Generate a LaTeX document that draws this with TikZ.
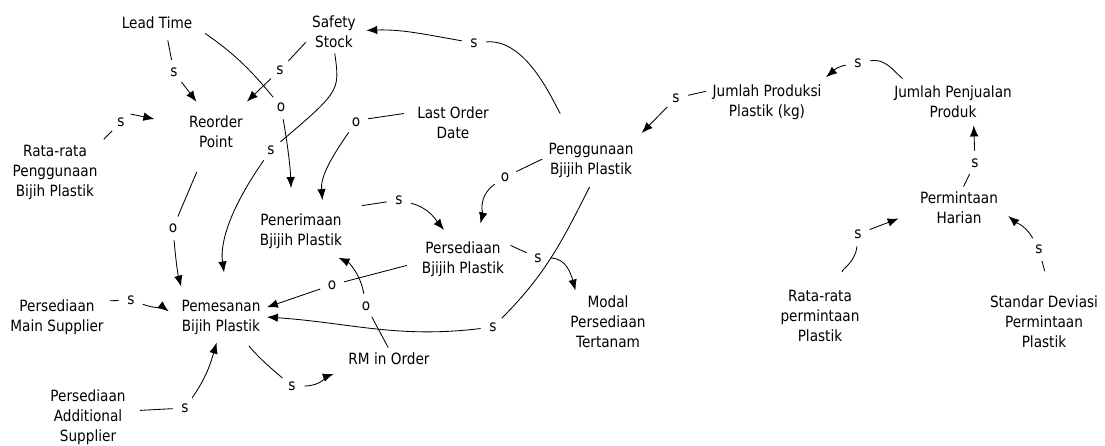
\documentclass[tikz,border=0pt]{standalone}
\usepackage{fontspec}
\setmainfont{DejaVu Sans}[FakeStretch=0.88]
\usetikzlibrary{arrows.meta}

\tikzset{
	var/.style = {align = center, inner xsep = 6pt, inner ysep = 5pt, font = \fontsize{15.5}{20}\selectfont},
	pol/.style = {circle, minimum size = 24pt, inner sep = 0pt, font = \fontsize{15.5}{20}\selectfont},
	cause/.style = {-{Latex[length = 11pt, width = 8.5pt]}},
}

\begin{document}
\begin{tikzpicture} [x = 1pt, y = 1pt, line width = 0.85pt]
	\useasboundingbox (0,0) rectangle (1105,446);
	% variables
	\node [var] (lead) at (157,423) {Lead Time};
	\node [var] (safety) at (334,414) {Safety\\Stock};
	\node [var] (reorder) at (216,314) {Reorder\\Point};
	\node [var] (rataguna) at (55,274) {Rata-rata\\Penggunaan\\Bijih Plastik};
	\node [var] (lastorder) at (453,323) {Last Order\\Date};
	\node [var] (guna) at (591,286) {Penggunaan\\Bjijih Plastik};
	\node [var] (terima) at (301,215) {Penerimaan\\Bjijih Plastik};
	\node [var] (sedia) at (463,187) {Persediaan\\Bjijih Plastik};
	\node [var] (pesan) at (221,129) {Pemesanan\\Bijih Plastik};
	\node [var] (mainsup) at (57,129) {Persediaan\\Main Supplier};
	\node [var] (addsup) at (88,29) {Persediaan\\Additional\\Supplier};
	\node [var] (rm) at (389,87) {RM in Order};
	\node [var] (modal) at (608,124) {Modal\\Persediaan\\Tertanam};
	\node [var] (produksi) at (767,344) {Jumlah Produksi\\Plastik (kg)};
	\node [var] (jual) at (953,344) {Jumlah Penjualan\\Produk};
	\node [var] (harian) at (959,238) {Permintaan\\Harian};
	\node [var] (ratadem) at (820,130) {Rata-rata\\permintaan\\Plastik};
	\node [var] (stdev) at (1044,124) {Standar Deviasi\\Permintaan\\Plastik};
	% polarities
	\node [pol] (pLR) at (174,374) {s};
	\node [pol] (pSR) at (280,376) {s};
	\node [pol] (pLT) at (281,339) {o};
	\node [pol] (pSP) at (271,296) {s};
	\node [pol] (pRR) at (121,324) {s};
	\node [pol] (pRP) at (173,218) {o};
	\node [pol] (pLP) at (356,324) {o};
	\node [pol] (pGS) at (474,403) {s};
	\node [pol] (pGSe) at (505,269) {o};
	\node [pol] (pGP) at (493,119) {s};
	\node [pol] (pTS) at (399,246) {s};
	\node [pol] (pSeP) at (332,161) {o};
	\node [pol] (pRT) at (366,140) {o};
	\node [pol] (pPR) at (292,60) {s};
	\node [pol] (pMP) at (131,146) {s};
	\node [pol] (pAP) at (185,38) {s};
	\node [pol] (pSM) at (538,188) {s};
	\node [pol] (pPG) at (676,348) {s};
	\node [pol] (pJP) at (858,383) {s};
	\node [pol] (pHJ) at (975,283) {s};
	\node [pol] (pRH) at (858,212) {s};
	\node [pol] (pSH) at (1039,197) {s};
	% links
	\draw [shorten < = 6pt] (lead.-50) -- (pLR);
	\draw [cause, shorten > = 11pt] (pLR) -- (reorder.121);
	\draw (safety.200) -- (pSR);
	\draw [cause, shorten > = 13pt] (pSR) -- (reorder.45);
	\draw [shorten < = 8pt] (lead.-8) to [out = -35, in = 129] (pLT);
	\draw [cause, shorten > = 20pt] (pLT) to [out = -80, in = 92] (terima.112);
	\draw (safety.-88) .. controls (340,355) .. (pSP);
	\draw [cause, shorten > = 22pt] (pSP) to [out = -125, in = 98] (pesan.75);
	\draw (rataguna.north east) -- (pRR);
	\draw [cause, shorten > = 29pt] (pRR.40) -- (reorder.168);
	\draw [shorten < = 20pt] (reorder.-118) -- (pRP);
	\draw [cause, shorten > = 8pt] (pRP) to [out = -85, in = 105] (pesan.149);
	\draw [shorten < = 7pt] (lastorder.166) -- (pLP.15);
	\draw [cause, shorten > = 8pt] (pLP) to [out = -125, in = 95] (terima.46);
	\draw [shorten < = 28pt] (guna.125) to [out = 122, in = 5, looseness = 0.8] (pGS);
	\draw [cause, shorten > = 4pt] (pGS) to [out = 170, in = 2] (safety.3);
	\draw (guna.179) -- (pGSe);
	\draw [cause, shorten > = 13pt] (pGSe) to [out = -145, in = 76] (sedia.58);
	\draw [shorten < = 5pt] (guna.-88) to [out = -117, in = 45] (pGP);
	\draw [cause] (pGP) to [out = 187, in = -4] (pesan.0);
	\draw [shorten < = 16pt] (terima.27) -- (pTS);
	\draw [cause, shorten > = 8pt] (pTS) to [out = -15, in = 130] (sedia.121);
	\draw [shorten < = 9pt] (sedia.185) -- (pSeP);
	\draw [cause] (pSeP) -- (pesan.12);
	\draw (rm.94) -- (pRT);
	\draw [cause, shorten > = 9pt] (pRT) to [out = 100, in = -25] (terima.-38);
	\draw [shorten < = 8pt] (pesan.-45) to [out = -50, in = 140] (pPR);
	\draw [cause, shorten > = 10pt] (pPR) to [out = 0, in = 200] (rm.194);
	\draw (mainsup.17) -- (pMP);
	\draw [cause, shorten > = 8pt] (pMP) to [out = -20, in = 143] (pesan.179);
	\draw [shorten < = 8pt] (addsup.8) -- (pAP);
	\draw [cause, shorten > = 3pt] (pAP) to [out = 55, in = -106] (pesan.-99);
	\draw (sedia.16) -- (pSM);
	\draw [cause] (pSM) to [out = 0, in = 105] (modal.136);
	\draw (produksi.170) -- (pPG);
	\draw [cause, shorten > = 6pt] (pPG) -- (guna.26);
	\draw [shorten < = 3pt] (jual.156) to [out = 140, in = 10] (pJP);
	\draw [cause, shorten > = 3pt] (pJP) to [out = 190, in = 40] (produksi.22);
	\draw (harian.78) -- (pHJ);
	\draw [cause, shorten > = 2pt] (pHJ) -- (jual.-46);
	\draw [shorten < = 13pt] (ratadem.52) to [out = 100, in = -95] (pRH);
	\draw [cause, shorten > = 16pt] (pRH) -- (harian.186);
	\draw [shorten < = 20pt] (stdev.80) -- (pSH);
	\draw [cause, shorten > = 5pt] (pSH) to [out = 120, in = -40] (harian.-6);
\end{tikzpicture}
\end{document}
